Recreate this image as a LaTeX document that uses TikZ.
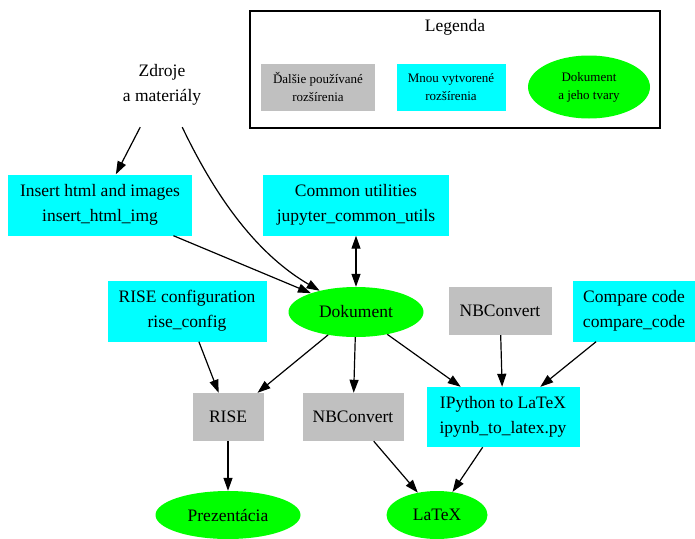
\documentclass[tikz,border=0pt]{standalone}
\usepackage{fontspec}
\setmainfont{Liberation Serif}
\usepackage{tikz}
\usetikzlibrary{arrows.meta, shapes.geometric}
\definecolor{gvgray}{RGB}{192,192,192}
\definecolor{gvcyan}{RGB}{0,255,255}
\definecolor{gvgreen}{RGB}{0,255,0}

\begin{document}
\begin{tikzpicture}[x=1pt, y=-1pt, >={Triangle[length=13pt, width=9pt]},
        every node/.style={font=\fontsize{17.5}{25}\selectfont, align=center, inner sep=0pt},
        own/.style={fill=gvcyan},
        other/.style={fill=gvgray},
        docshape/.style={ellipse, fill=gvgreen}, 
        small/.style={font=\fontsize{13}{18}\selectfont}]
        \useasboundingbox (0,0) rectangle (695,538);

        % legenda
        \draw[line width=1.3pt] (250,11) rectangle (660,128);
        \node (leg) at (455,27) {Legenda};
        \node[other, small, minimum width=114pt, minimum height=47pt] (legother) at (318,87) {Ďalšie používané\\rozšírenia};
        \node[own, small, minimum width=109pt, minimum height=47pt] (legown) at (451,87) {Mnou vytvorené\\rozšírenia};
        \node[docshape, small, minimum width=122pt, minimum height=63pt] (legdoc) at (589,87) {Dokument\\a jeho tvary};

        % uzly
        \node[minimum width=110pt, minimum height=84pt] (src) at (162,85) {Zdroje\\a materiály};
        \node[own, minimum width=184pt, minimum height=61pt] (ins) at (100,205) {Insert html and images\\insert\_html\_img};
        \node[own, minimum width=186pt, minimum height=61pt] (utils) at (356,205) {Common utilities\\jupyter\_common\_utils};
        \node[docshape, minimum width=135pt, minimum height=50pt] (doc) at (356,312) {Dokument};
        \node[own, minimum width=159pt, minimum height=61pt] (riseconf) at (187,311) {RISE configuration\\rise\_config};
        \node[other, minimum width=103pt, minimum height=48pt] (nbtop) at (500,311) {NBConvert};
        \node[own, minimum width=122pt, minimum height=61pt] (cmp) at (634,311) {Compare code\\compare\_code};
        \node[other, minimum width=71pt, minimum height=48pt] (rise) at (228,417) {RISE};
        \node[other, minimum width=101pt, minimum height=48pt] (nbbot) at (353,417) {NBConvert};
        \node[own, minimum width=153pt, minimum height=60pt] (ipy) at (503,417) {IPython to LaTeX\\ipynb\_to\_latex.py};
        \node[docshape, minimum width=145pt, minimum height=48pt] (pres) at (228,515) {Prezentácia};
        \node[docshape, minimum width=101pt, minimum height=48pt] (latex) at (437,515) {LaTeX};

        % hrany
        \draw[->, line width=1.2pt] (src) -- (ins);
        \draw[->, line width=1.2pt] (src) .. controls (210,185) and (250,250) .. (doc);
        \draw[->, line width=1.2pt] (ins) -- (doc);
        \draw[<->, line width=1.2pt] (utils) -- (doc);
        \draw[->, line width=1.2pt] (doc) -- (rise);
        \draw[->, line width=1.2pt] (riseconf) -- (rise);
        \draw[->, line width=1.2pt] (doc) -- (nbbot);
        \draw[->, line width=1.2pt] (doc) -- (ipy);
        \draw[->, line width=1.2pt] (nbtop) -- (ipy);
        \draw[->, line width=1.2pt] (cmp) -- (ipy);
        \draw[->, line width=1.2pt] (rise) -- (pres);
        \draw[->, line width=1.2pt] (nbbot) -- (latex);
        \draw[->, line width=1.2pt] (ipy) -- (latex);
\end{tikzpicture}
\end{document}
